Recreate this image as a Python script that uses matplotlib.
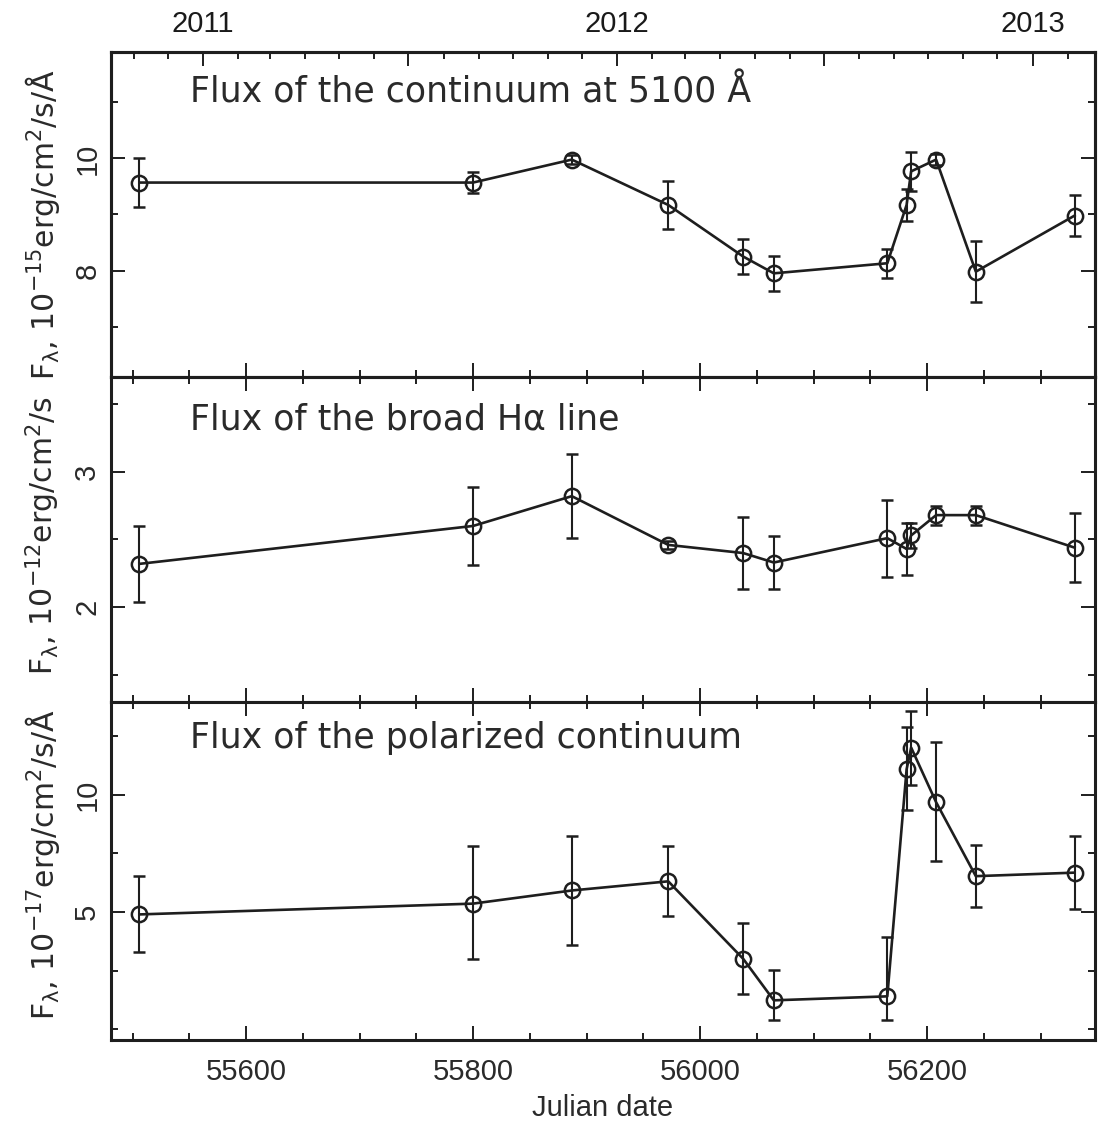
import datetime
import numpy as np
import matplotlib
matplotlib.use("Agg")
import matplotlib.pyplot as plt
from matplotlib.ticker import MultipleLocator, FixedLocator

plt.rcParams['font.family'] = ['Liberation Sans', 'DejaVu Sans']
plt.rcParams['mathtext.default'] = 'regular'

# observation dates (MJD)
jd = [55506, 55800, 55887, 55972, 56038, 56065, 56165, 56182, 56186, 56208, 56243, 56330]

# continuum at 5100 A, 1e-15 erg/cm2/s/A
cont = [9.57, 9.57, 9.98, 9.17, 8.25, 7.95, 8.13, 9.17, 9.77, 9.98, 7.98, 8.98]
cont_err = [0.43, 0.18, 0.08, 0.43, 0.31, 0.31, 0.26, 0.28, 0.35, 0.1, 0.55, 0.37]

# broad Halpha, 1e-12 erg/cm2/s
halpha = [2.32, 2.60, 2.82, 2.46, 2.40, 2.33, 2.51, 2.43, 2.53, 2.68, 2.68, 2.44]
halpha_err = [0.28, 0.29, 0.31, 0.03, 0.265, 0.195, 0.285, 0.19, 0.09, 0.07, 0.07, 0.255]

# polarized continuum, 1e-17 erg/cm2/s/A
pol = [4.90, 5.36, 5.92, 6.31, 3.01, 1.24, 1.41, 11.08, 12.01, 9.68, 6.53, 6.68]
pol_lo = [1.6, 2.35, 2.33, 1.48, 1.51, 0.85, 1.02, 1.71, 1.61, 2.52, 1.33, 1.57]
pol_hi = [1.62, 2.44, 2.33, 1.49, 1.52, 1.31, 2.53, 1.79, 1.54, 2.55, 1.32, 1.56]

titles = ["Flux of the continuum at 5100 Å", "Flux of the broad Hα line",
          "Flux of the polarized continuum"]
ylabels = ["F$_λ$, 10$^{-15}$erg/cm$^2$/s/Å", "F$_λ$, 10$^{-12}$erg/cm$^2$/s",
           "F$_λ$, 10$^{-17}$erg/cm$^2$/s/Å"]

c = '#1e1e1e'
tc = '#2a2a2a'
W, H = 1101, 1132
fig = plt.figure(figsize=(W / 100, H / 100), dpi=100)
left, width = 111 / W, (1095 - 111) / W
ax1 = fig.add_axes([left, 1 - 377 / H, width, 325 / H])
ax2 = fig.add_axes([left, 1 - 702 / H, width, 325 / H])
ax3 = fig.add_axes([left, 1 - 1040 / H, width, 338 / H])

style = dict(fmt='o-', color=c, mfc='none', mec=c, ms=11, mew=1.8, lw=1.9,
             ecolor=c, elinewidth=1.5, capsize=4, capthick=1.5)
ax1.errorbar(jd, cont, yerr=cont_err, **style)
ax2.errorbar(jd, halpha, yerr=halpha_err, **style)
ax3.errorbar(jd, pol, yerr=[pol_lo, pol_hi], **style)

ax1.set_ylim(6.1, 11.9)
ax1.yaxis.set_major_locator(FixedLocator([8, 10]))
ax1.yaxis.set_minor_locator(FixedLocator([7, 9, 11]))
ax2.set_ylim(1.3, 3.7)
ax2.yaxis.set_major_locator(FixedLocator([2, 3]))
ax2.yaxis.set_minor_locator(FixedLocator([1.5, 2.5, 3.5]))
ax3.set_ylim(-0.45, 13.95)
ax3.yaxis.set_major_locator(FixedLocator([5, 10]))
ax3.yaxis.set_minor_locator(FixedLocator([0, 2.5, 7.5, 12.5]))

title_y = [0.877, 0.868, 0.893]
label_y = [0.468, 0.512, 0.518]
for i, ax in enumerate([ax1, ax2, ax3]):
    ax.set_xlim(55481, 56348)
    ax.xaxis.set_major_locator(MultipleLocator(200))
    ax.xaxis.set_minor_locator(MultipleLocator(50))
    ax.tick_params(which='both', direction='in', top=True, right=True,
                   color=c, width=1.4, labelsize=21, labelcolor=tc)
    ax.tick_params(which='major', length=10)
    ax.tick_params(which='minor', length=5)
    ax.tick_params(axis='y', pad=7)
    ax.tick_params(axis='x', pad=13)
    plt.setp(ax.get_yticklabels(), rotation=90, va='center')
    for s in ax.spines.values():
        s.set_linewidth(2.2)
        s.set_color(c)
    ax.text(0.08, title_y[i], titles[i], transform=ax.transAxes, fontsize=25,
            family='DejaVu Sans', color=tc, va='center', ha='left')
    ax.set_ylabel(ylabels[i], fontsize=21.5, family='DejaVu Sans', color=tc)
    ax.yaxis.set_label_coords(-0.050, label_y[i])
    if i < 2:
        ax.tick_params(labelbottom=False)

ax1.tick_params(which='both', top=False)
ax3.set_xlabel("Julian date", fontsize=21, color=tc, labelpad=6)

# calendar axis on top of the first panel
def mjd(y, m):
    return (datetime.date(y, m, 1) - datetime.date(1858, 11, 17)).days

months = [(y, m) for y in (2010, 2011, 2012, 2013) for m in range(1, 13)]
month_ticks = [mjd(y, m) for y, m in months if 55481 <= mjd(y, m) <= 56348]
half_years = [mjd(y, m) for y, m in months if m in (1, 7) and 55481 <= mjd(y, m) <= 56348]
year_labels = [str(y) if m == 1 else '' for y, m in months
               if m in (1, 7) and 55481 <= mjd(y, m) <= 56348]

top = ax1.twiny()
top.set_xlim(ax1.get_xlim())
top.set_xticks(half_years)
top.set_xticklabels(year_labels)
top.xaxis.set_minor_locator(FixedLocator(month_ticks))
top.tick_params(which='both', direction='in', color=c, width=1.4,
                labelsize=21, labelcolor='#1a1a1a', pad=10)
top.tick_params(which='major', length=10)
top.tick_params(which='minor', length=5)
for s in top.spines.values():
    s.set_linewidth(2.2)
    s.set_color(c)

fig.savefig("out.png", dpi=100)
